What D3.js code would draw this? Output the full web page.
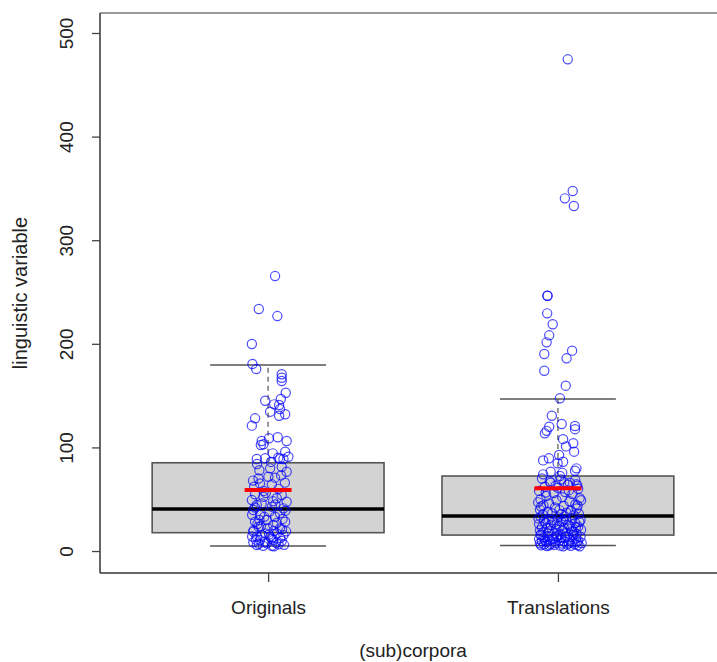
<!DOCTYPE html>
<html>
<head>
<meta charset="utf-8">
<script src="https://cdn.jsdelivr.net/npm/d3@7"></script>
<style>
  body { margin: 0; background: #fff; }
  text { font-family: "Liberation Sans", Arial, sans-serif; fill: #222; }
</style>
</head>
<body>
<div class="chart"></div>
<script>
// Data

const categories = ["Originals", "Translations"];
const yTicks = [0, 100, 200, 300, 400, 500];

// box statistics per group
const whiskerLow = [4.8, 5.3];
const q1 = [17.7, 15.4];
const medians = [40.5, 33.8];
const q3 = [85.2, 72.4];
const whiskerHigh = [179.5, 146.7];
const means = [58.9, 60.5];

// jittered points: [x position on category axis, value]
const originals = [
  [1.024, 265.4], [0.968, 233.6], [1.032, 226.8], [0.944, 199.8], [0.946, 180.5],
  [0.959, 175.7], [1.047, 170.6], [1.047, 167.3], [1.047, 164.1], [1.061, 152.8],
  [1.044, 146.7], [1.038, 140.9], [1.021, 141.6], [0.990, 145.1], [1.007, 134.5],
  [1.041, 137.1], [1.059, 132], [1.038, 130.6], [0.955, 128.1], [0.944, 121],
  [1.003, 108.8], [1.033, 109.8], [0.978, 106.2], [1.064, 106.2], [0.975, 102.3],
  [0.984, 103], [1.016, 94.3], [1.059, 95.9], [1.053, 88.8], [0.961, 88.8],
  [0.990, 89.5], [1.070, 91], [1.041, 89],
  [0.970, 78], [1.007, 79.8], [1.047, 81.4], [1.064, 76.5], [0.967, 70],
  [1.001, 71.7], [1.024, 70.8], [0.972, 65.3], [1.013, 64.4], [0.955, 54.7],
  [1.047, 54], [0.944, 49.2], [1.030, 50.9], [1.064, 47.6], [0.984, 52.4],
  [0.961, 44.4], [1.013, 42.8], [1.053, 41.2], [0.949, 39.6], [1.041, 36.4],
  [0.972, 34.7], [1.024, 33.1], [0.995, 30], [0.955, 28.3], [1.059, 28.3],
  [1.018, 25.1], [0.967, 23.5], [1.041, 21.9], [0.949, 18.6], [0.990, 17],
  [1.030, 17], [1.053, 15.4], [0.961, 13.8], [1.007, 13.8], [0.972, 10.6],
  [1.018, 10.6], [1.047, 9.7], [0.949, 8.4], [0.995, 7.4], [1.036, 6.5],
  [0.961, 5.8], [1.013, 5.1],
  [0.952, 62], [1.036, 60], [0.985, 58], [1.058, 66], [0.978, 46],
  [1.025, 45], [0.945, 35], [1.005, 38], [1.050, 31], [0.963, 26],
  [0.998, 22], [1.030, 27], [0.950, 20], [1.062, 19], [0.980, 15],
  [1.012, 12], [0.958, 11], [1.042, 12.5], [0.990, 9], [0.968, 7],
  [1.028, 8], [1.055, 6], [0.945, 14], [1.003, 16], [0.975, 24],
  [1.020, 19.5], [0.987, 33], [1.060, 39], [0.955, 42], [1.017, 48],
  [0.992, 56], [1.045, 73], [0.962, 84], [1.010, 86], [1.035, 90],
  [0.948, 68], [0.983, 5], [1.020, 4.5], [1.048, 21], [0.970, 30]
];

const translations = [
  [2.034, 474.6], [2.051, 347.5], [2.024, 340.4], [2.055, 333], [1.964, 246.4],
  [1.964, 246.4], [1.963, 229.4], [1.982, 218.9], [1.970, 208.2], [1.961, 201.4],
  [2.049, 193.4], [2.030, 186], [1.953, 190.2], [1.953, 174], [2.027, 159.6],
  [2.007, 147.4], [1.979, 130.6], [2.013, 122.6], [1.970, 120], [1.961, 116],
  [1.955, 113.6], [2.059, 120.7], [2.059, 117.6], [2.018, 108], [2.053, 104],
  [2.028, 101], [2.056, 95.9], [1.949, 87.5], [1.969, 89.5], [2.004, 92.7],
  [2.018, 86.2], [1.999, 84.7], [2.064, 79.8], [2.059, 77.5], [1.949, 74],
  [1.975, 76.5], [2.015, 75.5], [2.007, 72.4], [1.972, 67], [2.041, 66],
  [2.064, 64.4], [2.067, 63],
  [1.945, 70], [2.010, 69], [2.060, 68.5], [1.975, 66], [2.035, 64],
  [1.955, 62], [2.000, 61], [2.070, 60], [1.935, 58], [2.025, 57],
  [1.985, 56], [2.050, 55], [1.960, 53], [2.015, 52], [2.075, 51],
  [1.940, 50], [1.995, 49], [2.040, 48], [1.970, 46], [2.060, 45],
  [1.950, 44], [2.020, 43.5], [1.990, 42], [2.065, 41], [1.938, 40],
  [2.005, 39.5], [2.045, 39], [1.965, 38], [2.030, 37], [1.980, 36.5],
  [2.072, 36], [1.948, 35], [2.012, 35.5], [2.055, 34.5], [1.932, 47],
  [2.080, 49], [1.958, 56.5], [2.038, 58.5], [1.992, 63], [2.068, 44],
  [1.942, 43], [2.022, 66.5],
  [1.940, 33], [2.000, 32.5], [2.050, 32], [1.968, 31], [2.028, 30.5],
  [2.078, 30], [1.952, 29], [2.012, 28.5], [1.985, 27.5], [2.060, 27],
  [1.935, 26], [2.035, 25.5], [1.975, 25], [2.005, 24], [2.070, 23.5],
  [1.945, 23], [2.020, 22.5], [1.962, 22], [2.045, 21.5], [1.995, 21],
  [2.080, 20.5], [1.938, 20], [2.015, 19.5], [1.970, 19], [2.055, 18.5],
  [1.950, 18], [2.030, 17.5], [1.988, 17], [2.065, 16.5], [1.942, 16],
  [2.008, 16.2], [2.040, 24.2], [1.958, 27], [2.074, 28], [1.980, 30],
  [2.024, 33.5], [1.933, 31.5], [2.062, 22.8], [1.996, 26], [2.048, 19.2],
  [1.966, 17.2], [2.018, 29.3],
  [1.940, 15.5], [1.998, 15], [2.052, 15.2], [1.965, 14.5], [2.030, 14],
  [2.078, 13.8], [1.950, 13], [2.012, 12.8], [1.985, 12], [2.062, 12.2],
  [1.935, 11.5], [2.040, 11], [1.972, 10.8], [2.005, 10.2], [2.070, 10],
  [1.945, 9.5], [2.022, 9.2], [1.960, 8.8], [2.048, 8.5], [1.992, 8],
  [2.082, 7.8], [1.938, 7.5], [2.015, 7.2], [1.975, 7], [2.058, 6.8],
  [1.952, 6.5], [2.032, 6.2], [1.988, 6], [2.068, 5.8], [1.942, 5.5],
  [2.008, 5.2], [2.045, 5], [1.962, 4.8], [2.075, 4.5], [1.980, 11.2],
  [2.025, 13.2], [1.955, 10.4], [2.038, 7.6], [1.995, 13.6], [2.065, 9],
  [1.970, 5.6], [2.018, 4.6]
];

// Measurements

const width = 717;
const height = 662;
const plot = { left: 100, right: 726, top: 13, bottom: 573 };
const boxHalf = 0.4;
const stapleHalf = 0.2;
const meanHalf = 0.081;

const svg = d3
  .select(".chart")
  .append("svg")
  .attr("width", width)
  .attr("height", height);

// Scales (R extends ranges by 4%)

const xScale = d3.scaleLinear().domain([0.42, 2.58]).range([plot.left, plot.right]);
const yScale = d3.scaleLinear().domain([-21.2, 519.3]).range([plot.bottom, plot.top]);

const groups = categories.map((c, i) => ({
  name: c,
  pos: i + 1,
  lo: whiskerLow[i],
  q1: q1[i],
  med: medians[i],
  q3: q3[i],
  hi: whiskerHigh[i],
  mean: means[i]
}));

// Boxplots

const box = svg.append("g").attr("class", "boxes");

// whiskers (dashed)
box
  .selectAll(".whisker-up")
  .data(groups)
  .enter()
  .append("line")
  .attr("x1", (d) => xScale(d.pos))
  .attr("x2", (d) => xScale(d.pos))
  .attr("y1", (d) => yScale(d.q3))
  .attr("y2", (d) => yScale(d.hi))
  .attr("stroke", "#808080")
  .attr("stroke-width", 1.6)
  .attr("stroke-dasharray", "5,4");

box
  .selectAll(".whisker-down")
  .data(groups)
  .enter()
  .append("line")
  .attr("x1", (d) => xScale(d.pos))
  .attr("x2", (d) => xScale(d.pos))
  .attr("y1", (d) => yScale(d.q1))
  .attr("y2", (d) => yScale(d.lo))
  .attr("stroke", "#808080")
  .attr("stroke-width", 1.6)
  .attr("stroke-dasharray", "5,4");

// staples
["hi", "lo"].forEach((k) => {
  box
    .selectAll(".staple-" + k)
    .data(groups)
    .enter()
    .append("line")
    .attr("x1", (d) => xScale(d.pos - stapleHalf))
    .attr("x2", (d) => xScale(d.pos + stapleHalf))
    .attr("y1", (d) => yScale(d[k]))
    .attr("y2", (d) => yScale(d[k]))
    .attr("stroke", "#555")
    .attr("stroke-width", 1.6);
});

// boxes
box
  .selectAll("rect")
  .data(groups)
  .enter()
  .append("rect")
  .attr("x", (d) => xScale(d.pos - boxHalf))
  .attr("width", (d) => xScale(d.pos + boxHalf) - xScale(d.pos - boxHalf))
  .attr("y", (d) => yScale(d.q3))
  .attr("height", (d) => yScale(d.q1) - yScale(d.q3))
  .attr("fill", "#d3d3d3")
  .attr("stroke", "#555")
  .attr("stroke-width", 1.6);

// medians
box
  .selectAll(".median")
  .data(groups)
  .enter()
  .append("line")
  .attr("x1", (d) => xScale(d.pos - boxHalf))
  .attr("x2", (d) => xScale(d.pos + boxHalf))
  .attr("y1", (d) => yScale(d.med))
  .attr("y2", (d) => yScale(d.med))
  .attr("stroke", "#000")
  .attr("stroke-width", 3.5);

// Jittered points

svg
  .append("g")
  .selectAll("circle")
  .data(originals.concat(translations))
  .enter()
  .append("circle")
  .attr("cx", (d) => xScale(d[0]))
  .attr("cy", (d) => yScale(d[1]))
  .attr("r", 4.6)
  .attr("fill", "none")
  .attr("stroke", "#0000ff")
  .attr("stroke-opacity", 0.7)
  .attr("stroke-width", 1.2);

// Mean markers

svg
  .append("g")
  .selectAll("line")
  .data(groups)
  .enter()
  .append("line")
  .attr("x1", (d) => xScale(d.pos - meanHalf))
  .attr("x2", (d) => xScale(d.pos + meanHalf))
  .attr("y1", (d) => yScale(d.mean))
  .attr("y2", (d) => yScale(d.mean))
  .attr("stroke", "#ff0000")
  .attr("stroke-width", 4);

// Plot frame

svg.append("line")
  .attr("x1", plot.left).attr("x2", plot.right)
  .attr("y1", plot.top).attr("y2", plot.top)
  .attr("stroke", "#9a9a9a").attr("stroke-width", 2);
svg.append("line")
  .attr("x1", plot.left).attr("x2", plot.left)
  .attr("y1", plot.top).attr("y2", plot.bottom)
  .attr("stroke", "#333").attr("stroke-width", 1.5);
svg.append("line")
  .attr("x1", plot.left).attr("x2", plot.right)
  .attr("y1", plot.bottom).attr("y2", plot.bottom)
  .attr("stroke", "#333").attr("stroke-width", 1.5);

// Axes

const yAxis = svg
  .append("g")
  .attr("transform", `translate(${plot.left}, 0)`)
  .call(d3.axisLeft(yScale).tickValues(yTicks).tickSize(8));
yAxis.select(".domain").remove();
yAxis.selectAll("line").attr("stroke", "#444").attr("stroke-width", 1.3);
yAxis
  .selectAll("text")
  .attr("transform", "rotate(-90)")
  .attr("x", 0)
  .attr("y", -27)
  .attr("dy", 0)
  .attr("text-anchor", "middle")
  .style("font-size", "19px")
  .style("font-family", '"Liberation Sans", Arial, sans-serif')
  .attr("fill", "#222");

const xAxis = svg
  .append("g")
  .attr("transform", `translate(0, ${plot.bottom})`)
  .call(
    d3.axisBottom(xScale)
      .tickValues([1, 2])
      .tickFormat((d) => categories[d - 1])
      .tickSize(9)
  );
xAxis.select(".domain").remove();
xAxis.selectAll("line").attr("stroke", "#444").attr("stroke-width", 1.3);
xAxis
  .selectAll("text")
  .attr("y", 41)
  .attr("dy", 0)
  .style("font-size", "19px")
  .style("font-family", '"Liberation Sans", Arial, sans-serif')
  .attr("fill", "#222");

// Axis titles

svg
  .append("text")
  .attr("x", (plot.left + plot.right) / 2)
  .attr("y", 657)
  .attr("text-anchor", "middle")
  .style("font-size", "19px")
  .text("(sub)corpora");

svg
  .append("text")
  .attr("transform", `translate(27, ${(plot.top + plot.bottom) / 2}) rotate(-90)`)
  .attr("text-anchor", "middle")
  .style("font-size", "20px")
  .text("linguistic variable");
</script>
</body>
</html>
